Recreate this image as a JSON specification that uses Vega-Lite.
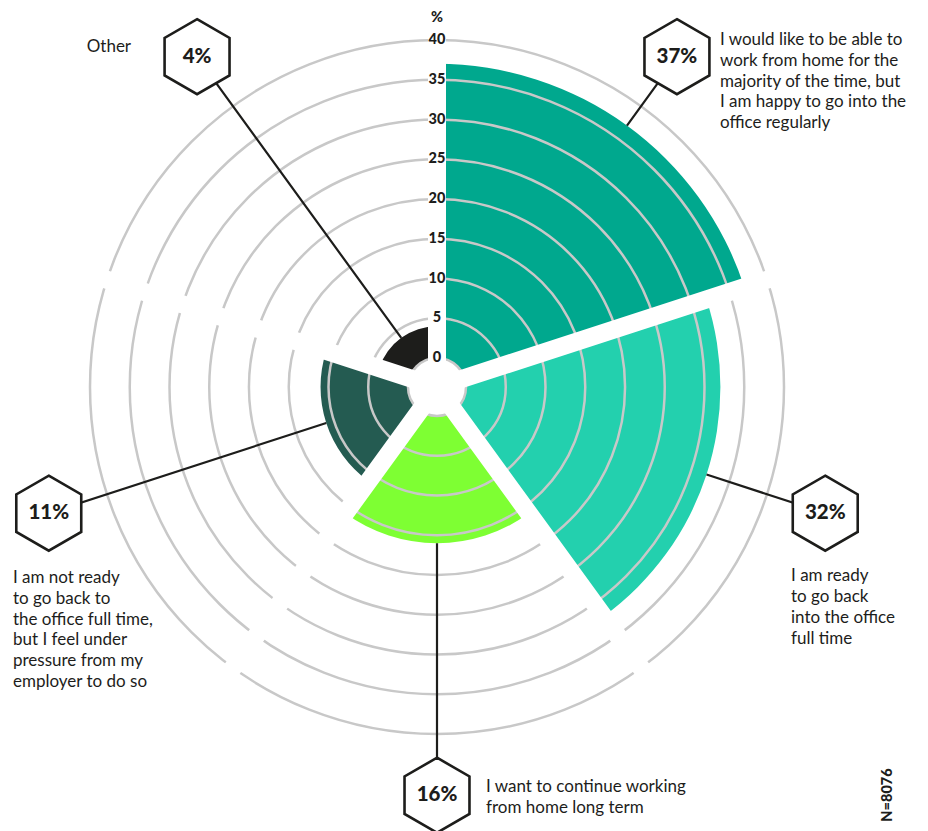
{
  "$schema": "https://vega.github.io/schema/vega-lite/v6.json",
  "width": 874,
  "height": 774,
  "autosize": "none",
  "padding": {"left": 0, "top": 0, "right": 54, "bottom": 57},
  "background": "white",
  "config": {"view": {"stroke": null}, "text": {"font": "Lato"}},
  "datasets": {
    "answers": [
      {"answer": "I would like to be able to\nwork from home for the\nmajority of the time, but\nI am happy to go into the\noffice regularly", "value": 37},
      {"answer": "I am ready\nto go back\ninto the office\nfull time", "value": 32},
      {"answer": "I want to continue working\nfrom home long term", "value": 16},
      {"answer": "I am not ready\nto go back to\nthe office full time,\nbut I feel under\npressure from my\nemployer to do so", "value": 11},
      {"answer": "Other", "value": 4}
    ],
    "rings": [
      {"g": 0}, {"g": 5}, {"g": 10}, {"g": 15}, {"g": 20}, {"g": 25}, {"g": 30}, {"g": 35}, {"g": 40}
    ]
  },
  "layer": [
    {
      "data": {"name": "answers"},
      "transform": [{"window": [{"op": "row_number", "as": "k"}]}],
      "mark": {"type": "arc", "thetaOffset": -0.6283185307179586, "theta2Offset": 0.6283185307179586},
      "encoding": {
        "theta": {"field": "k", "type": "quantitative", "stack": null, "scale": {"type": "linear", "domain": [0.5, 5.5], "range": [0, 6.283185307179586], "zero": false, "nice": false}},
        "theta2": {"field": "k"},
        "radius": {"field": "value", "type": "quantitative", "scale": {"type": "linear", "domain": [0, 40], "range": [29, 347], "zero": false, "nice": false}},
        "radius2": {"datum": 0},
        "color": {
          "field": "answer", "type": "nominal", "legend": null,
          "scale": {
            "domain": [
              "I would like to be able to\nwork from home for the\nmajority of the time, but\nI am happy to go into the\noffice regularly",
              "I am ready\nto go back\ninto the office\nfull time",
              "I want to continue working\nfrom home long term",
              "I am not ready\nto go back to\nthe office full time,\nbut I feel under\npressure from my\nemployer to do so",
              "Other"
            ],
            "range": ["#00a88e", "#23d0ae", "#7eff33", "#245b51", "#1d1d1b"]
          }
        }
      }
    },
    {
      "data": {"name": "rings"},
      "mark": {"type": "arc", "filled": false, "stroke": "#c8c8c8", "strokeWidth": 2.5, "theta": 0, "theta2": 6.283185307179586},
      "encoding": {
        "radius": {"field": "g", "type": "quantitative", "scale": {"type": "linear", "domain": [0, 40], "range": [29, 347], "zero": false, "nice": false}},
        "radius2": {"field": "g"}
      }
    },
    {
      "data": {"name": "answers"},
      "transform": [{"window": [{"op": "row_number", "as": "k"}]}],
      "mark": {"type": "arc", "filled": false, "stroke": "white", "strokeWidth": 18, "strokeCap": "butt", "strokeJoin": "bevel", "thetaOffset": 0.6283185307179586, "theta2Offset": 0.6283185307179586},
      "encoding": {
        "theta": {"field": "k", "type": "quantitative", "stack": null, "scale": {"type": "linear", "domain": [0.5, 5.5], "range": [0, 6.283185307179586], "zero": false, "nice": false}},
        "theta2": {"field": "k"},
        "radius": {"datum": 42.5, "type": "quantitative", "scale": {"type": "linear", "domain": [0, 40], "range": [29, 347], "zero": false, "nice": false}},
        "radius2": {"value": 0}
      }
    },
    {
      "data": {"name": "answers"},
      "transform": [{"window": [{"op": "row_number", "as": "k"}]}],
      "mark": {"type": "arc", "filled": false, "stroke": "#1d1d1b", "strokeWidth": 2.2},
      "encoding": {
        "theta": {"field": "k", "type": "quantitative", "stack": null, "scale": {"type": "linear", "domain": [0.5, 5.5], "range": [0, 6.283185307179586], "zero": false, "nice": false}},
        "theta2": {"field": "k"},
        "radius": {"field": "value", "type": "quantitative", "scale": {"type": "linear", "domain": [0, 40], "range": [29, 347], "zero": false, "nice": false}},
        "radius2": {"datum": 48}
      }
    },
    {
      "data": {"name": "rings"},
      "mark": {"type": "text", "theta": 0, "fontWeight": 900, "fontSize": 14.5, "color": "#1d1d1b", "align": "center", "baseline": "middle"},
      "encoding": {
        "radius": {"field": "g", "type": "quantitative", "scale": {"type": "linear", "domain": [0, 40], "range": [29, 347], "zero": false, "nice": false}},
        "text": {"field": "g", "type": "quantitative"}
      }
    },
    {
      "data": {"name": "answers"},
      "transform": [{"window": [{"op": "row_number", "as": "k"}]}],
      "mark": {
        "type": "point",
        "shape": "M0,-1L0.866,-0.5L0.866,0.5L0,1L-0.866,0.5L-0.866,-0.5Z",
        "size": 5625, "filled": true, "fill": "white", "stroke": "#1d1d1b", "strokeWidth": 2.6, "opacity": 1,
        "x": {"expr": "width / 2 + scale('radius', 47.7) * sin(scale('theta', datum.k))"},
        "y": {"expr": "height / 2 - scale('radius', 47.7) * cos(scale('theta', datum.k))"}
      },
      "encoding": {}
    },
    {
      "data": {"name": "answers"},
      "transform": [{"window": [{"op": "row_number", "as": "k"}]}],
      "mark": {"type": "text", "fontWeight": 900, "fontSize": 20.5, "color": "#1d1d1b", "align": "center", "baseline": "middle", "text": {"expr": "datum.value + '%'"}},
      "encoding": {
        "theta": {"field": "k", "type": "quantitative", "stack": null, "scale": {"type": "linear", "domain": [0.5, 5.5], "range": [0, 6.283185307179586], "zero": false, "nice": false}},
        "radius": {"datum": 47.7, "type": "quantitative", "scale": {"type": "linear", "domain": [0, 40], "range": [29, 347], "zero": false, "nice": false}}
      }
    },
    {
      "data": {"name": "answers"},
      "transform": [{"window": [{"op": "row_number", "as": "k"}]}, {"filter": "datum.k == 1"}],
      "mark": {"type": "text", "fontSize": 17, "color": "#1d1d1b", "align": "left", "baseline": "alphabetic", "lineBreak": "\n", "lineHeight": 20.8, "dx": 43, "dy": -11.8},
      "encoding": {
        "theta": {"field": "k", "type": "quantitative", "stack": null, "scale": {"type": "linear", "domain": [0.5, 5.5], "range": [0, 6.283185307179586], "zero": false, "nice": false}},
        "radius": {"datum": 47.7, "type": "quantitative", "scale": {"type": "linear", "domain": [0, 40], "range": [29, 347], "zero": false, "nice": false}},
        "text": {"field": "answer"}
      }
    },
    {
      "data": {"name": "answers"},
      "transform": [{"window": [{"op": "row_number", "as": "k"}]}, {"filter": "datum.k == 2"}],
      "mark": {"type": "text", "fontSize": 17, "color": "#1d1d1b", "align": "left", "baseline": "alphabetic", "lineBreak": "\n", "lineHeight": 20.8, "dx": -34.2, "dy": 68},
      "encoding": {
        "theta": {"field": "k", "type": "quantitative", "stack": null, "scale": {"type": "linear", "domain": [0.5, 5.5], "range": [0, 6.283185307179586], "zero": false, "nice": false}},
        "radius": {"datum": 47.7, "type": "quantitative", "scale": {"type": "linear", "domain": [0, 40], "range": [29, 347], "zero": false, "nice": false}},
        "text": {"field": "answer"}
      }
    },
    {
      "data": {"name": "answers"},
      "transform": [{"window": [{"op": "row_number", "as": "k"}]}, {"filter": "datum.k == 3"}],
      "mark": {"type": "text", "fontSize": 17, "color": "#1d1d1b", "align": "left", "baseline": "alphabetic", "lineBreak": "\n", "lineHeight": 20.8, "dx": 49, "dy": -3.2},
      "encoding": {
        "theta": {"field": "k", "type": "quantitative", "stack": null, "scale": {"type": "linear", "domain": [0.5, 5.5], "range": [0, 6.283185307179586], "zero": false, "nice": false}},
        "radius": {"datum": 47.7, "type": "quantitative", "scale": {"type": "linear", "domain": [0, 40], "range": [29, 347], "zero": false, "nice": false}},
        "text": {"field": "answer"}
      }
    },
    {
      "data": {"name": "answers"},
      "transform": [{"window": [{"op": "row_number", "as": "k"}]}, {"filter": "datum.k == 4"}],
      "mark": {"type": "text", "fontSize": 17, "color": "#1d1d1b", "align": "left", "baseline": "alphabetic", "lineBreak": "\n", "lineHeight": 20.8, "dx": -35.8, "dy": 69.9},
      "encoding": {
        "theta": {"field": "k", "type": "quantitative", "stack": null, "scale": {"type": "linear", "domain": [0.5, 5.5], "range": [0, 6.283185307179586], "zero": false, "nice": false}},
        "radius": {"datum": 47.7, "type": "quantitative", "scale": {"type": "linear", "domain": [0, 40], "range": [29, 347], "zero": false, "nice": false}},
        "text": {"field": "answer"}
      }
    },
    {
      "data": {"name": "answers"},
      "transform": [{"window": [{"op": "row_number", "as": "k"}]}, {"filter": "datum.k == 5"}],
      "mark": {"type": "text", "fontSize": 17, "color": "#1d1d1b", "align": "right", "baseline": "alphabetic", "lineBreak": "\n", "lineHeight": 20.8, "dx": -66, "dy": -4.3},
      "encoding": {
        "theta": {"field": "k", "type": "quantitative", "stack": null, "scale": {"type": "linear", "domain": [0.5, 5.5], "range": [0, 6.283185307179586], "zero": false, "nice": false}},
        "radius": {"datum": 47.7, "type": "quantitative", "scale": {"type": "linear", "domain": [0, 40], "range": [29, 347], "zero": false, "nice": false}},
        "text": {"field": "answer"}
      }
    },
    {
      "data": {"values": [{"unit": "%"}]},
      "mark": {"type": "text", "theta": 0, "fontWeight": 900, "fontSize": 14.5, "color": "#1d1d1b", "align": "center", "baseline": "middle"},
      "encoding": {
        "radius": {"datum": 42.8, "type": "quantitative", "scale": {"type": "linear", "domain": [0, 40], "range": [29, 347], "zero": false, "nice": false}},
        "text": {"field": "unit"}
      }
    },
    {
      "data": {"values": [{"note": "N=8076"}]},
      "mark": {"type": "text", "angle": 270, "fontWeight": 900, "fontSize": 14.5, "color": "#1d1d1b", "align": "center", "baseline": "middle", "x": {"expr": "width + 14"}, "y": {"expr": "height + 21"}},
      "encoding": {"text": {"field": "note"}}
    }
  ]
}
